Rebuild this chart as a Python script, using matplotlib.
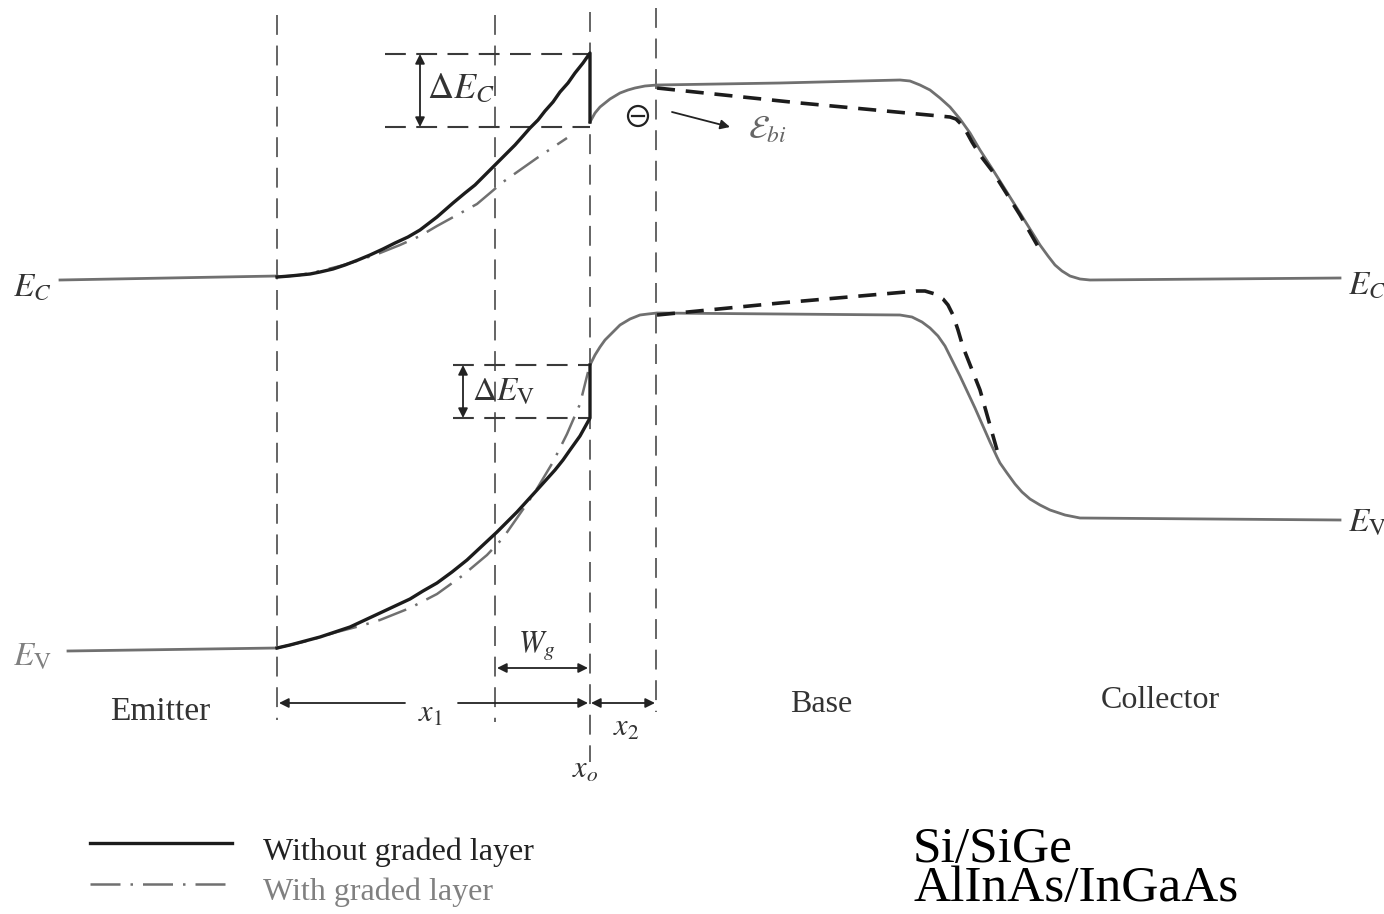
import matplotlib
matplotlib.use("Agg")
import matplotlib.pyplot as plt

plt.rcParams["mathtext.fontset"] = "stix"
plt.rcParams["font.family"] = ["Liberation Serif", "DejaVu Serif"]

# ---------- данные (координаты в пикселях картинки, y вниз) ----------
# зона проводимости
ec_left_x = [60, 277]
ec_left_y = [280, 276]
ec_abrupt_x = [277, 290, 300, 310, 320, 333, 345, 358, 370, 383, 395, 408, 420, 437, 453, 465, 475,
               486, 497, 506, 515, 523, 530, 538, 545, 553, 560, 568, 575, 583, 590, 590]
ec_abrupt_y = [277, 276, 275, 274, 272, 269, 265, 260, 255, 249, 243, 237, 230, 217, 203, 193, 185,
               174, 163, 154, 145, 136, 128, 120, 111, 102, 92, 83, 73, 63, 53, 122]
ec_base_x = [590, 595, 600, 605, 610, 615, 620, 628, 635, 645, 657, 780, 900, 910, 920, 930, 940,
             950, 960, 970, 980, 993, 1020, 1040, 1048, 1055, 1062, 1070, 1080, 1090, 1340]
ec_base_y = [122, 113, 107, 103, 99, 96, 93, 90, 88, 86, 85, 83, 80, 81, 85, 90, 98,
             107, 119, 133, 150, 170, 213, 245, 256, 265, 271, 276, 279, 280, 278]
ec_dash_x = [657, 800, 950, 956, 961, 966, 972, 980, 993, 1020, 1040]
ec_dash_y = [88, 103, 117, 119, 124, 131, 142, 155, 172, 215, 250]
ec_graded_x = [277, 300, 320, 340, 360, 380, 400, 420, 437, 457, 477, 490, 503, 520, 537, 552, 567]
ec_graded_y = [277, 275, 271, 266, 260, 253, 245, 236, 226, 215, 204, 193, 182, 170, 158, 148, 138]

# валентная зона
ev_left_x = [68, 277]
ev_left_y = [651, 648]
ev_abrupt_x = [277, 290, 305, 320, 335, 350, 365, 380, 395, 410, 423, 437, 452, 467, 482, 497,
               507, 517, 527, 537, 546, 555, 563, 570, 575, 580, 585, 590, 590]
ev_abrupt_y = [648, 645, 641, 637, 632, 627, 620, 613, 606, 599, 591, 583, 572, 560, 546, 532,
               522, 512, 501, 490, 480, 470, 460, 450, 443, 436, 427, 418, 365]
ev_base_x = [590, 595, 600, 605, 610, 615, 620, 625, 630, 635, 640, 648, 657, 780, 900, 912, 922,
             930, 938, 945, 952, 960, 975, 990, 997, 1000, 1007, 1015, 1022, 1030, 1040, 1050, 1065, 1080, 1340]
ev_base_y = [365, 355, 347, 340, 335, 330, 325, 322, 319, 317, 315, 314, 313, 314, 315, 317, 322,
             328, 336, 346, 360, 376, 408, 442, 457, 463, 473, 484, 492, 499, 505, 510, 515, 518, 520]
ev_dash_x = [657, 780, 917, 925, 935, 943, 948, 953, 958, 963, 980, 997]
ev_dash_y = [315, 303, 291, 291, 294, 299, 305, 315, 330, 347, 390, 450]
ev_graded_x = [277, 307, 337, 360, 380, 410, 437, 462, 487, 503, 517, 535, 553, 567, 580, 588]
ev_graded_y = [648, 641, 632, 626, 620, 608, 594, 576, 555, 538, 518, 492, 462, 434, 404, 372]

# вертикальные штриховые границы: x, верх, низ
bounds_x = [277, 495, 590, 656]
bounds_top = [15, 15, 12, 8]
bounds_bot = [720, 722, 762, 712]

# ΔE_C и ΔE_V: уровни
dEc_levels = [54, 127]
dEc_x = [385, 590]
dEv_levels = [365, 418]
dEv_x = [453, 590]

GREY = "#707070"
BLACK = "#1c1c1c"
DASH = "#3a3a3a"

fig = plt.figure(figsize=(13.84, 9.14), dpi=100)
ax = fig.add_axes([0, 0, 1, 1])
ax.set_xlim(0, 1384)
ax.set_ylim(914, 0)
ax.axis("off")

# границы областей
for x, t, b in zip(bounds_x, bounds_top, bounds_bot):
    ax.plot([x, x], [t, b], color=DASH, lw=1.1, ls=(0, (13, 7)))

for y in dEc_levels:
    ax.plot(dEc_x, [y, y], color=DASH, lw=1.5, ls=(0, (10, 5)))
for y in dEv_levels:
    ax.plot(dEv_x, [y, y], color=DASH, lw=1.5, ls=(0, (10, 5)))

# кривые
ax.plot(ec_left_x, ec_left_y, color=GREY, lw=2.0)
ax.plot(ev_left_x, ev_left_y, color=GREY, lw=2.0)
ax.plot(ec_base_x, ec_base_y, color=GREY, lw=2.0)
ax.plot(ev_base_x, ev_base_y, color=GREY, lw=2.0)
ax.plot(ec_graded_x, ec_graded_y, color=GREY, lw=1.8, ls=(0, (12, 4, 1, 4)))
ax.plot(ev_graded_x, ev_graded_y, color=GREY, lw=1.8, ls=(0, (12, 4, 1, 4)))
ax.plot(ec_abrupt_x, ec_abrupt_y, color=BLACK, lw=2.4)
ax.plot(ev_abrupt_x, ev_abrupt_y, color=BLACK, lw=2.4)
ax.plot(ec_dash_x, ec_dash_y, color=BLACK, lw=2.6, ls=(0, (5, 3)))
ax.plot(ev_dash_x, ev_dash_y, color=BLACK, lw=2.6, ls=(0, (5, 3)))

# стрелки
arr = dict(arrowstyle="<|-|>", color="#222222", lw=1.3, mutation_scale=14, shrinkA=0, shrinkB=0)
ax.annotate("", xy=(420, dEc_levels[0]), xytext=(420, dEc_levels[1]), arrowprops=arr)
ax.annotate("", xy=(463, dEv_levels[0]), xytext=(463, dEv_levels[1]), arrowprops=arr)
ax.annotate("", xy=(497, 668), xytext=(588, 668), arrowprops=arr)
ax.annotate("", xy=(591, 703), xytext=(655, 703), arrowprops=arr)
one = dict(arrowstyle="-|>", color="#222222", lw=1.3, mutation_scale=14, shrinkA=0, shrinkB=0)
ax.annotate("", xy=(279, 703), xytext=(405, 703), arrowprops=one)
ax.annotate("", xy=(588, 703), xytext=(458, 703), arrowprops=one)
ax.annotate("", xy=(730, 127), xytext=(672, 112), arrowprops=one)

# электрон
ax.add_patch(plt.Circle((638, 116), 10, fill=False, color="#222222", lw=1.6))
ax.plot([632, 644], [116, 116], color="#222222", lw=1.6)

# подписи
ax.text(13, 287, r"$E_C$", fontsize=24, color="#333333", va="center", ha="left")
ax.text(13, 657, r"$E_\mathrm{V}$", fontsize=24, color="#808080", va="center", ha="left")
ax.text(1348, 285, r"$E_C$", fontsize=24, color="#333333", va="center", ha="left")
ax.text(1348, 523, r"$E_\mathrm{V}$", fontsize=24, color="#333333", va="center", ha="left")
ax.text(427, 90, r"$\Delta E_C$", fontsize=26, color="#333333", va="center", ha="left")
ax.text(472, 392, r"$\Delta E_\mathrm{V}$", fontsize=24, color="#333333", va="center", ha="left")
ax.text(748, 130, r"$\mathcal{E}_{bi}$", fontsize=24, color="#666666", va="center", ha="left")
ax.text(537, 645, r"$W_g$", fontsize=22, color="#333333", va="center", ha="center")
ax.text(430, 714, r"$x_1$", fontsize=22, color="#333333", va="center", ha="center")
ax.text(626, 728, r"$x_2$", fontsize=22, color="#333333", va="center", ha="center")
ax.text(585, 770, r"$x_o$", fontsize=22, color="#333333", va="center", ha="center")

ax.text(160, 712, "Emitter", fontsize=24, color="#333333", va="center", ha="center")
ax.text(821, 705, "Base", fontsize=23, color="#333333", va="center", ha="center")
ax.text(1160, 700, "Collector", fontsize=23, color="#333333", va="center", ha="center")

# легенда
ax.plot([90, 232], [843, 843], color=BLACK, lw=2.4)
ax.plot([90, 232], [884, 884], color=GREY, lw=1.8, ls=(0, (12, 4, 1, 4)))
ax.text(263, 852, "Without graded layer", fontsize=23, color="#222222", va="center", ha="left")
ax.text(263, 892, "With graded layer", fontsize=23, color="#808080", va="center", ha="left")

ax.text(913, 869, "Si/SiGe\nAlInAs/InGaAs", fontsize=37, color="black",
        va="center", ha="left", linespacing=0.8)

fig.savefig("out.png", dpi=100)
